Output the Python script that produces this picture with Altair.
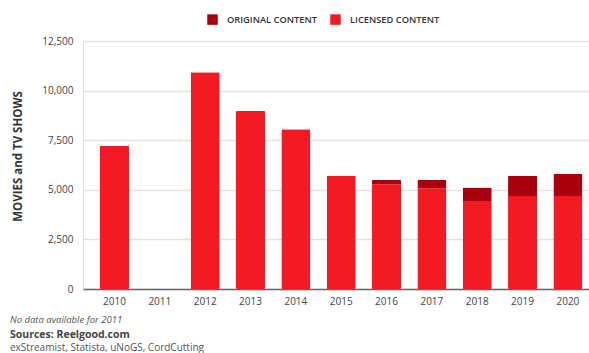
import altair as alt
import pandas as pd

years = ["2010", "2011", "2012", "2013", "2014", "2015", "2016", "2017", "2018", "2019", "2020"]
data_years = ["2010", "2012", "2013", "2014", "2015", "2016", "2017", "2018", "2019", "2020"]
licensed = [7220, 10920, 8970, 8050, 5710, 5280, 5080, 4400, 4690, 4690]
original = [0, 0, 0, 0, 0, 215, 415, 710, 1000, 1110]
series = ["ORIGINAL CONTENT", "LICENSED CONTENT"]
colors = ["#A8000F", "#F41A23"]
yticks = [0, 2500, 5000, 7500, 10000, 12500]

rows = []
for y, l, o in zip(data_years, licensed, original):
    rows.append({"year": y, "type": "LICENSED CONTENT", "value": l, "ord": 0})
    rows.append({"year": y, "type": "ORIGINAL CONTENT", "value": o, "ord": 1})
df = pd.DataFrame(rows)

FONT = "Open Sans"

bars = alt.Chart(df).mark_bar(cornerRadius=1).encode(
    x=alt.X("year:N", scale=alt.Scale(domain=years, paddingInner=0.36, paddingOuter=0.26, align=0.72),
            axis=alt.Axis(title=None, labelAngle=0, labelFont=FONT, labelFontSize=10, labelColor="#444",
                          labelPadding=7, ticks=False, domainColor="#666", domainWidth=1.5, grid=False)),
    y=alt.Y("value:Q", stack="zero", scale=alt.Scale(domain=[0, 12500], nice=False),
            axis=alt.Axis(values=yticks, format=",.0f", title="MOVIES and TV SHOWS", titleFont=FONT,
                          titleFontSize=11.5, titleFontWeight="bold", titleColor="#333",
                          titleX=-65, titleY=115, titleAngle=-90, titleBaseline="middle", titleAlign="center",
                          labelFont=FONT, labelFontSize=10, labelColor="#444", labelPadding=10,
                          ticks=False, domain=False, gridColor="#e2e2e2", gridWidth=1.5)),
    color=alt.Color("type:N", scale=alt.Scale(domain=series, range=colors),
                    legend=alt.Legend(title=None, orient="none", direction="horizontal", legendX=124, legendY=-27,
                                      symbolType="square", symbolSize=110, symbolStrokeWidth=0, symbolOpacity=1,
                                      labelFont=FONT, labelFontSize=9.3, labelFontWeight=600, labelColor="#333",
                                      columnPadding=12, labelOffset=9)),
    order=alt.Order("ord:Q"),
)

notes = pd.DataFrame({
    "t": ["No data available for 2011", "Sources: Reelgood.com", "exStreamist, Statista, uNoGS, CordCutting"],
})

n1 = alt.Chart(notes.iloc[[0]]).mark_text(align="left", baseline="middle", font=FONT, fontSize=9.5,
                                           fontStyle="italic", color="#555").encode(
    x=alt.value(-73), y=alt.value(279), text="t:N")
n2 = alt.Chart(notes.iloc[[1]]).mark_text(align="left", baseline="middle", font=FONT, fontSize=10.5,
                                           fontWeight="bold", color="#444").encode(
    x=alt.value(-73), y=alt.value(294), text="t:N")
n3 = alt.Chart(notes.iloc[[2]]).mark_text(align="left", baseline="middle", font=FONT, fontSize=10,
                                           color="#555").encode(
    x=alt.value(-73), y=alt.value(306.5), text="t:N")

chart = alt.layer(bars, n1, n2, n3).properties(
    width=506, height=248,
    autosize=alt.AutoSizeParams(type="none"),
    padding={"left": 83, "top": 41, "right": 0, "bottom": 64},
).configure_view(stroke=None).configure(background="white")

chart.save("out.html", embed_options={"renderer": "svg", "actions": False})
